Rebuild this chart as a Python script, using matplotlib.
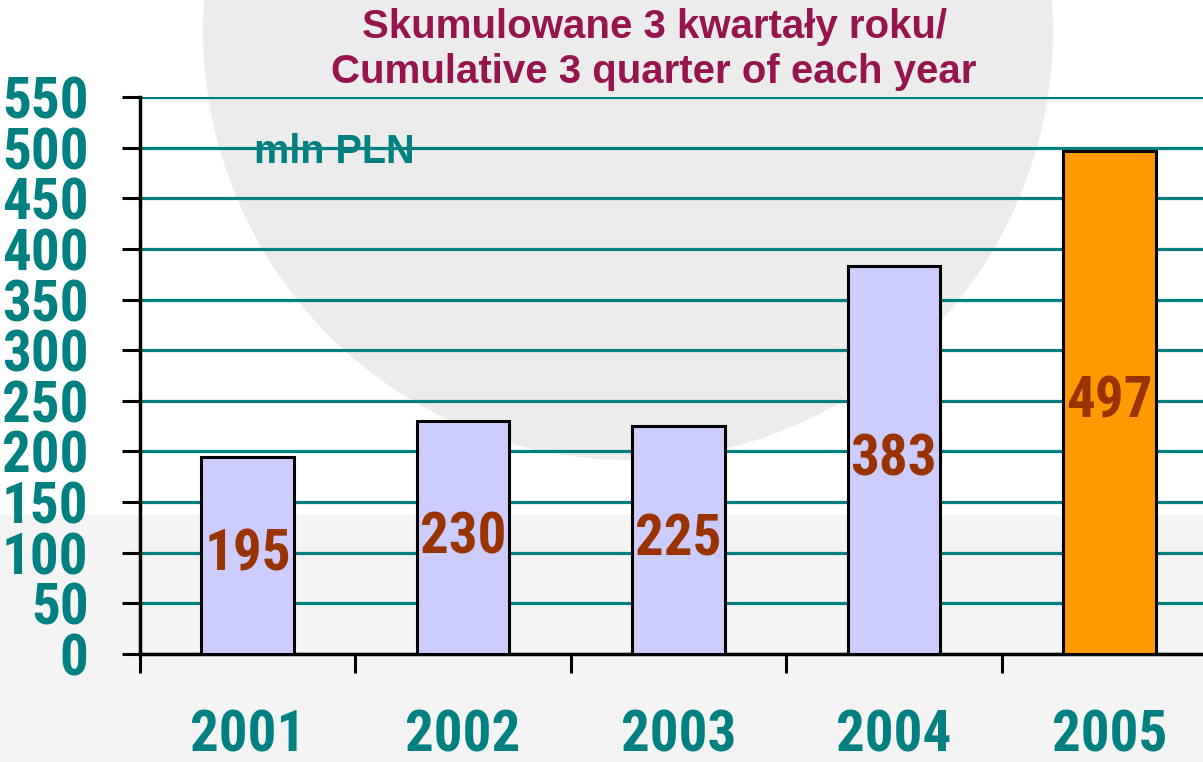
import matplotlib
matplotlib.use("Agg")
import matplotlib.pyplot as plt
from matplotlib.patches import Ellipse, Rectangle
import numpy as np

years = ["2001", "2002", "2003", "2004", "2005"]
values = [195, 230, 225, 383, 497]
bar_colors = ["#CCCCFF", "#CCCCFF", "#CCCCFF", "#CCCCFF", "#FF9900"]
yticks = list(range(0, 551, 50))
title_l1 = "Skumulowane 3 kwartały roku/"
title_l2 = "Cumulative 3 quarter of each year"
unit_label = "mln PLN"

TEAL = "#008080"
TITLE_C = "#97154F"
VAL_C = "#993300"
NARROW = ["Roboto Condensed", "Liberation Sans", "DejaVu Sans"]
WIDE = ["Liberation Sans", "DejaVu Sans"]

W, H = 1203, 762
fig = plt.figure(figsize=(W / 100, H / 100), dpi=100)
fig.patch.set_facecolor("white")

# faint watermark background
fig.patches.append(Rectangle((0, 0), 1, (H - 515) / H, transform=fig.transFigure,
                             facecolor="#F4F4F4", edgecolor="none", zorder=-10))
fig.patches.append(Ellipse((628 / W, 1 - 30 / H), 850 / W, 860 / H, transform=fig.transFigure,
                           facecolor="#ECECEC", edgecolor="none", zorder=-9))

ax = fig.add_axes([140 / W, (H - 654) / H, 1077 / W, 557 / H])
ax.set_facecolor("none")

x = np.arange(len(years))
ax.bar(x, values, width=0.43, color=bar_colors, edgecolor="black", linewidth=2.2, zorder=3)

for xi, v in zip(x, values):
    ax.text(xi, v / 2, str(v), ha="center", va="center", color=VAL_C,
            fontsize=41, fontweight="bold", family=NARROW, zorder=4)

ax.set_xlim(-0.5, 4.5)
ax.set_ylim(0, 550)
ax.set_yticks(yticks)
ax.yaxis.grid(True, color=TEAL, linewidth=2.3, zorder=1)
ax.set_axisbelow(True)

major_x = np.arange(-0.5, 4.0, 1.0)
ax.set_xticks(major_x)
ax.set_xticklabels([""] * len(major_x))
ax.set_xticks(x, minor=True)
ax.set_xticklabels(years, minor=True)
ax.tick_params(axis="x", which="major", length=14, width=2.2, color="black", direction="out")
ax.tick_params(axis="x", which="minor", length=0, pad=39)
ax.tick_params(axis="y", length=13, width=2.2, color="black", direction="out", pad=24)

for lbl in ax.get_yticklabels() + ax.get_xticklabels(minor=True):
    lbl.set_family(NARROW)
    lbl.set_fontsize(41)
    lbl.set_fontweight("bold")
    lbl.set_color(TEAL)

for s in ["top", "right"]:
    ax.spines[s].set_visible(False)
for s in ["left", "bottom"]:
    ax.spines[s].set_linewidth(2.5)
    ax.spines[s].set_color("black")

fig.text(654 / W, 1 - 38 / H, title_l1, ha="center", va="baseline", color=TITLE_C,
         fontsize=29, fontweight="bold", family=WIDE)
fig.text(654 / W, 1 - 83 / H, title_l2, ha="center", va="baseline", color=TITLE_C,
         fontsize=29, fontweight="bold", family=WIDE)
fig.text(254 / W, 1 - 163 / H, unit_label, ha="left", va="baseline", color=TEAL,
         fontsize=28.5, fontweight="bold", family=WIDE)

fig.savefig("out.png", dpi=100)
